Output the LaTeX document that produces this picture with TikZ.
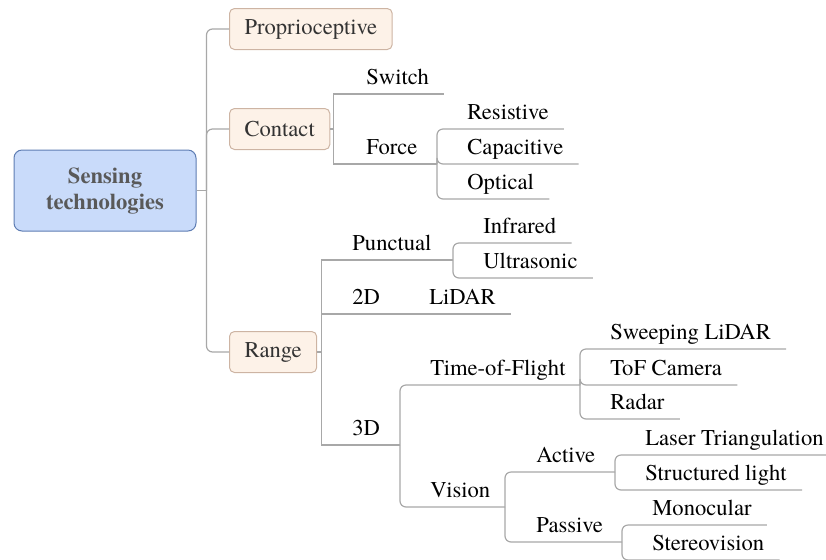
\documentclass[tikz,border=0pt]{standalone}
\usepackage{fontspec}
\setmainfont{TeX Gyre Termes}
\usetikzlibrary{calc}
\definecolor{rootfill}{HTML}{C9DBFA}
\definecolor{rootline}{HTML}{5E7DB3}
\definecolor{topicfill}{HTML}{FDF2E8}
\definecolor{topicline}{HTML}{CDB4A3}
\definecolor{linkgray}{HTML}{A8A8A8}
\def\branch[#1](#2)(#3){\draw[link,#1] (#2) |- ($(#3.south east)+(15,0)$);}
\tikzset{
	link/.style={draw=linkgray, line width=0.6pt},
	lbl/.style={inner sep=0pt, text depth=4.5pt, anchor=south west, font=\fontsize{11.3}{13}\selectfont},
	topic/.style={draw=topicline, fill=topicfill, rounded corners=2.5pt, line width=0.5pt, text=black!80, inner xsep=7.5pt, minimum height=20.5pt, anchor=west, font=\fontsize{11.3}{13}\selectfont},
	rootbox/.style={draw=rootline, fill=rootfill, rounded corners=4pt, line width=0.5pt, text=black!65, align=center, minimum width=91pt, minimum height=40.5pt, font=\fontsize{11.3}{13}\selectfont\bfseries}
}

\begin{document}
\begin{tikzpicture}[x=0.5pt, y=-0.5pt]
			%%%%% START %%%%%
			\useasboundingbox (0, 0) rectangle (826, 559);
			
			\node[rootbox] (root) at (105, 190.5) {Sensing\\technologies};
			\node[topic] (proprio) at (229, 29) {Proprioceptive};
			\node[topic] (contact) at (229, 129) {Contact};
			\node[topic] (range) at (229, 352) {Range};
			
			\coordinate (root-b) at ($(root.east)+(10, 0)$);
			\draw[link] (root.east) -- (root-b);
			\draw[link, rounded corners=3pt] (root-b) |- (proprio.west);
			\draw[link, rounded corners=3pt] (root-b) |- (contact.west);
			\draw[link, rounded corners=3pt] (root-b) |- (range.west);
			
			%% contact
			\node[lbl] (switch) at (366, 94) {Switch};
			\node[lbl] (force) at (366, 164) {Force};
			\node[lbl] (resistive) at (467, 129) {Resistive};
			\node[lbl] (capacitive) at (467, 164) {Capacitive};
			\node[lbl] (optical) at (467, 199) {Optical};
			
			\coordinate (contact-b) at ($(contact.east)+(3, 0)$);
			\coordinate (force-b) at (437, 164);
			\draw[link] (contact.east) -- (contact-b);
			\branch[](contact-b)(switch)
			\draw[link] (contact-b) |- (force-b);
			\branch[rounded corners=3pt](force-b)(resistive)
			\branch[rounded corners=3pt](force-b)(capacitive)
			\branch[rounded corners=3pt](force-b)(optical)
			
			%% range
			\node[lbl] (punctual) at (352, 260) {Punctual};
			\node[lbl] (infrared) at (483, 243) {Infrared};
			\node[lbl] (ultrasonic) at (483, 278) {Ultrasonic};
			\node[lbl] (twod) at (352, 314) {2D};
			\node[lbl] (lidar) at (429, 314) {LiDAR};
			\node[lbl] (threed) at (352, 445) {3D};
			
			\coordinate (range-b) at ($(range.east)+(4, 0)$);
			\coordinate (punct-b) at (453, 260);
			\coordinate (threed-b) at (400, 445);
			\draw[link] (range.east) -- (range-b);
			\draw[link] (range-b) |- (punct-b);
			\branch[](range-b)(lidar)
			\draw[link] (range-b) |- (threed-b);
			\branch[rounded corners=3pt](punct-b)(infrared)
			\branch[rounded corners=3pt](punct-b)(ultrasonic)
			
			%% 3D
			\node[lbl] (tof) at (430, 385) {Time-of-Flight};
			\node[lbl] (sweep) at (610, 349) {Sweeping LiDAR};
			\node[lbl] (tofcam) at (610, 385) {ToF Camera};
			\node[lbl] (radar) at (610, 419) {Radar};
			\node[lbl] (vision) at (430, 507) {Vision};
			\node[lbl] (active) at (536, 472) {Active};
			\node[lbl] (laser) at (645, 455) {Laser Triangulation};
			\node[lbl] (structured) at (645, 490) {Structured light};
			\node[lbl] (passive) at (536, 542) {Passive};
			\node[lbl] (mono) at (652, 525) {Monocular};
			\node[lbl] (stereo) at (652, 560) {Stereovision};
			
			\coordinate (tof-b) at (580, 385);
			\coordinate (vision-b) at (505, 507);
			\coordinate (active-b) at (615, 472);
			\coordinate (passive-b) at (622, 542);
			\draw[link, rounded corners=3pt] (threed-b) |- (tof-b);
			\draw[link, rounded corners=3pt] (threed-b) |- (vision-b);
			\branch[rounded corners=3pt](tof-b)(sweep)
			\branch[rounded corners=3pt](tof-b)(tofcam)
			\branch[rounded corners=3pt](tof-b)(radar)
			\draw[link, rounded corners=3pt] (vision-b) |- (active-b);
			\draw[link, rounded corners=3pt] (vision-b) |- (passive-b);
			\branch[rounded corners=3pt](active-b)(laser)
			\branch[rounded corners=3pt](active-b)(structured)
			\branch[rounded corners=3pt](passive-b)(mono)
			\branch[rounded corners=3pt](passive-b)(stereo)
			%%%%% END %%%%%
\end{tikzpicture}
\end{document}
